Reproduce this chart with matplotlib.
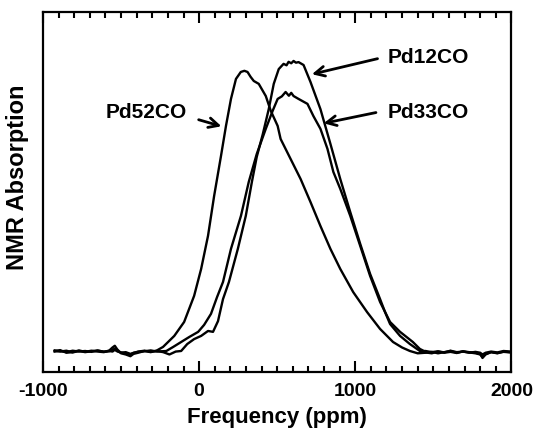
import matplotlib
matplotlib.use("Agg")
import matplotlib.pyplot as plt
from matplotlib.ticker import MultipleLocator

plt.rcParams["font.family"] = ["Liberation Sans", "DejaVu Sans"]
plt.rcParams["font.weight"] = "bold"
plt.rcParams["axes.unicode_minus"] = False

# shared baseline positions (ppm)
base_left_ppm = [-925, -890, -850, -810, -770, -730, -690, -650, -610, -575,
                 -555, -540, -525, -500, -470, -440, -420, -390, -350, -310, -270]
base_right_ppm = [1450, 1490, 1530, 1570, 1610, 1650, 1690, 1730, 1770, 1800,
                  1815, 1835, 1870, 1910, 1950, 1995]

# Pd52CO
pd52_ppm = [-231, -159, -96, -32, 13, 57, 96, 140, 172, 204, 236, 267, 290, 310,
            330, 350, 382, 427, 459, 503, 522, 586, 650, 713, 777, 841, 904, 987,
            1076, 1159, 1242, 1300, 1350, 1400]
pd52_val = [0.014, 0.052, 0.10, 0.19, 0.283, 0.397, 0.534, 0.672, 0.776, 0.869,
            0.938, 0.962, 0.966, 0.962, 0.945, 0.931, 0.921, 0.879, 0.828, 0.776,
            0.731, 0.662, 0.593, 0.514, 0.431, 0.352, 0.283, 0.203, 0.134, 0.076,
            0.031, 0.012, 0.0, -0.008]
pd52_left = [0.0, 0.003, -0.006, -0.004, 0.002, -0.003, 0.001, -0.002, -0.004, 0.002,
             0.012, 0.018, 0.006, -0.008, -0.012, -0.018, -0.010, -0.006, 0.0, -0.004, 0.002]
pd52_right = [-0.006, -0.003, -0.008, -0.004, 0.0, -0.006, -0.002, -0.005, -0.008, -0.012,
              -0.02, -0.01, -0.004, -0.007, -0.003, -0.005]

# Pd12CO
pd12_ppm = [-230, -190, -150, -115, -76, -32, 13, 57, 89, 121, 153, 191, 248, 299,
            338, 369, 408, 446, 478, 510, 541, 560, 573, 590, 605, 620, 637, 669,
            713, 777, 841, 904, 968, 1032, 1095, 1159, 1191, 1223, 1287, 1350, 1414]
pd12_val = [-0.004, -0.012, -0.002, 0.0, 0.024, 0.041, 0.052, 0.069, 0.066, 0.103,
            0.179, 0.238, 0.352, 0.466, 0.583, 0.669, 0.748, 0.834, 0.921, 0.972,
            0.990, 0.985, 0.997, 0.992, 1.0, 0.994, 0.996, 0.986, 0.928, 0.834,
            0.714, 0.593, 0.479, 0.369, 0.266, 0.179, 0.134, 0.093, 0.052, 0.024, 0.0]
pd12_left = [0.002, -0.002, 0.001, -0.005, 0.0, -0.004, -0.001, 0.002, -0.003, 0.0,
             -0.002, 0.004, -0.001, -0.006, -0.004, -0.010, -0.007, -0.002, 0.001, -0.003, 0.0]
pd12_right = [-0.005, -0.008, -0.002, -0.006, -0.003, -0.007, -0.001, -0.004, -0.006, -0.01,
              -0.024, -0.012, -0.004, -0.008, -0.002, -0.004]

# Pd33CO
pd33_ppm = [-210, -166, -115, -64, -6, 32, 76, 115, 153, 204, 268, 318, 369, 427,
            471, 503, 530, 554, 575, 590, 605, 637, 694, 732, 777, 822, 860, 904,
            968, 1032, 1095, 1159, 1223, 1287, 1369, 1414, 1440]
pd33_val = [0.0, 0.014, 0.031, 0.048, 0.066, 0.09, 0.128, 0.186, 0.238, 0.352,
            0.466, 0.583, 0.679, 0.766, 0.828, 0.869, 0.878, 0.893, 0.880, 0.890,
            0.879, 0.869, 0.852, 0.81, 0.766, 0.697, 0.617, 0.559, 0.466, 0.362,
            0.259, 0.169, 0.10, 0.066, 0.031, 0.007, 0.0]
pd33_left = [-0.002, 0.0, -0.004, 0.001, -0.002, 0.0, -0.003, 0.001, -0.002, -0.001,
             0.004, 0.008, 0.0, -0.005, -0.008, -0.012, -0.006, -0.003, -0.001, 0.002, -0.002]
pd33_right = [0.0, -0.004, -0.001, -0.005, 0.001, -0.004, -0.002, -0.006, -0.003, -0.006,
              -0.012, -0.006, -0.002, -0.005, 0.0, -0.002]

fig = plt.figure(figsize=(5.4, 4.31), dpi=100)
ax = fig.add_axes([0.0796, 0.1346, 0.8674, 0.8354])

for ppm, val, left, right in [(pd52_ppm, pd52_val, pd52_left, pd52_right),
                              (pd12_ppm, pd12_val, pd12_left, pd12_right),
                              (pd33_ppm, pd33_val, pd33_left, pd33_right)]:
    x = base_left_ppm + ppm + [p for p in base_right_ppm if p > ppm[-1]]
    y = left + val + [v for p, v in zip(base_right_ppm, right) if p > ppm[-1]]
    ax.plot(x, y, color="black", lw=1.7)

ax.set_xlim(-1000, 2000)
ax.set_ylim(-0.0724, 1.169)

# labels and arrows
arrow = dict(arrowstyle="->,head_length=0.7,head_width=0.35", lw=2, color="black")
ax.text(-340, 0.824, "Pd52CO", fontsize=15, fontweight="bold", ha="center", va="center")
ax.annotate("", xy=(160, 0.772), xytext=(-20, 0.800), arrowprops=arrow)
ax.text(1470, 1.014, "Pd12CO", fontsize=15, fontweight="bold", ha="center", va="center")
ax.annotate("", xy=(705, 0.952), xytext=(1160, 1.010), arrowprops=arrow)
ax.text(1470, 0.824, "Pd33CO", fontsize=15, fontweight="bold", ha="center", va="center")
ax.annotate("", xy=(780, 0.783), xytext=(1150, 0.824), arrowprops=arrow)

ax.xaxis.set_major_locator(MultipleLocator(1000))
ax.xaxis.set_minor_locator(MultipleLocator(100))
ax.tick_params(axis="x", which="both", direction="in", top=True, bottom=True, width=1.5)
ax.tick_params(axis="x", which="major", length=8, pad=7, labelsize=14)
ax.tick_params(axis="x", which="minor", length=4)
ax.set_yticks([])
for lab in ax.get_xticklabels():
    lab.set_fontweight("bold")
for s in ax.spines.values():
    s.set_linewidth(1.6)

ax.set_xlabel("Frequency (ppm)", fontsize=16, fontweight="bold", labelpad=5)
ax.set_ylabel("NMR Absorption", fontsize=17, fontweight="bold")
ax.yaxis.set_label_coords(-0.03, 0.544)

fig.savefig("out.png", dpi=100)
